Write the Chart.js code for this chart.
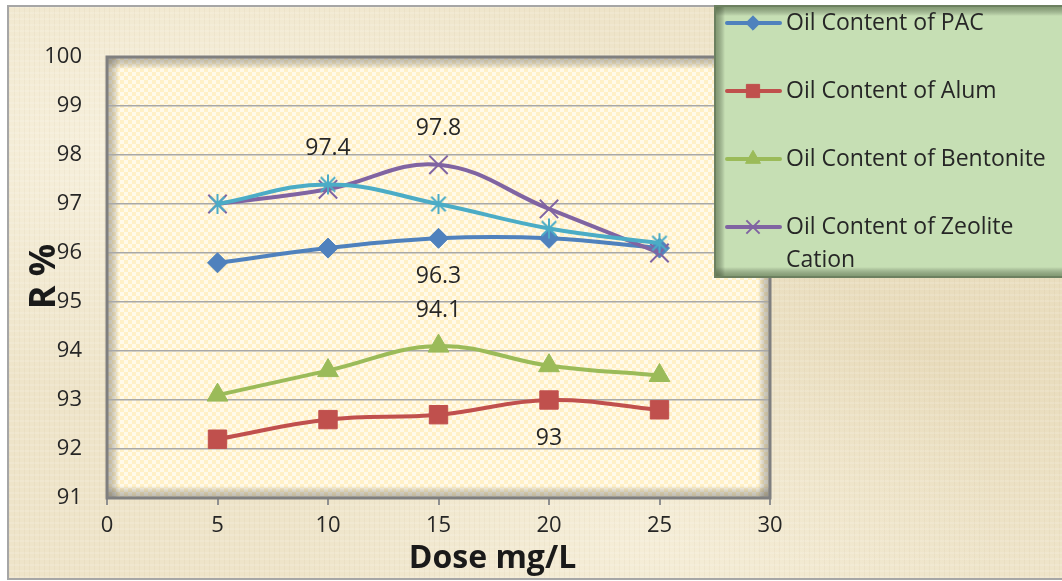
<!DOCTYPE html>
<html>
<head>
<meta charset="utf-8">
<script src="https://cdn.jsdelivr.net/npm/chart.js@4.4.1/dist/chart.umd.min.js"></script>
<style>
  html, body { margin: 0; padding: 0; background: #ffffff; }
  #frame {
    position: absolute; left: 7px; top: 5px; width: 1060px; height: 575px;
    box-sizing: border-box; border: 2px solid #a6a6a6;
    background-color: #eee4c9;
    background-image:
      repeating-linear-gradient(0deg, rgba(255,255,255,0.12) 0 2px, rgba(0,0,0,0) 2px 6px),
      repeating-linear-gradient(90deg, rgba(150,120,70,0.05) 0 1px, rgba(0,0,0,0) 1px 5px),
      radial-gradient(ellipse at 15% 25%, rgba(255,251,238,0.55), rgba(255,251,238,0) 40%),
      radial-gradient(ellipse at 60% 90%, rgba(255,250,235,0.45), rgba(255,250,235,0) 40%),
      radial-gradient(ellipse at 85% 60%, rgba(215,195,150,0.30), rgba(215,195,150,0) 45%);
  }
  #c { position: absolute; left: 0; top: 0; }
</style>
</head>
<body>
<div id="frame"></div>
<canvas id="c" width="1062" height="581"></canvas>
<script>
// Dose (mg/L) and removal efficiency R % for each coagulant / adsorbent
const doses = [5, 10, 15, 20, 25];
const pacValues = [95.8, 96.1, 96.3, 96.3, 96.1];
const alumValues = [92.2, 92.6, 92.7, 93.0, 92.8];
const bentoniteValues = [93.1, 93.6, 94.1, 93.7, 93.5];
const zeoliteValues = [97.0, 97.3, 97.8, 96.9, 96.0];
const fifthValues = [97.0, 97.4, 97.0, 96.5, 96.2];
const seriesNames = ['Oil Content of PAC', 'Oil Content of Alum', 'Oil Content of Bentonite', 'Oil Content of Zeolite Cation', ''];
const xTicks = [0, 5, 10, 15, 20, 25, 30];
const yTicks = [91, 92, 93, 94, 95, 96, 97, 98, 99, 100];
const xTitle = 'Dose mg/L';
const yTitle = 'R %';

// which points carry a value label, and on which side
const valueLabels = [
  { series: 4, point: 1, side: 'above' },
  { series: 3, point: 2, side: 'above' },
  { series: 0, point: 2, side: 'below' },
  { series: 2, point: 2, side: 'above' },
  { series: 1, point: 3, side: 'below' }
];

const FONT = "'Open Sans', 'DejaVu Sans', sans-serif";
const TEXT = '#262626';

function makeAsterisk(color, size) {
  const c = document.createElement('canvas');
  c.width = size; c.height = size;
  const g = c.getContext('2d');
  const m = size / 2, r = size / 2 - 1, d = r * 0.72;
  g.strokeStyle = color; g.lineWidth = 2; g.lineCap = 'butt';
  g.beginPath();
  g.moveTo(m, m - r); g.lineTo(m, m + r);
  g.moveTo(m - d, m - d); g.lineTo(m + d, m + d);
  g.moveTo(m + d, m - d); g.lineTo(m - d, m + d);
  g.stroke();
  return c;
}

const seriesValues = [pacValues, alumValues, bentoniteValues, zeoliteValues, fifthValues];
const styles = [
  { color: '#4f81bd', pointStyle: 'rectRot', radius: 10, pbw: 1 },
  { color: '#c0504d', pointStyle: 'rect', radius: 13, pbw: 1 },
  { color: '#9bbb59', pointStyle: 'triangle', radius: 12, pbw: 1 },
  { color: '#8064a2', pointStyle: 'crossRot', radius: 13, pbw: 2 },
  { color: '#4bacc6', pointStyle: makeAsterisk('#4bacc6', 22), radius: 11, pbw: 2 }
];

const datasets = seriesValues.map((vals, i) => ({
  label: seriesNames[i],
  data: doses.map((d, k) => ({ x: d, y: vals[k] })),
  borderColor: styles[i].color,
  backgroundColor: styles[i].color,
  borderWidth: 4,
  tension: 0.4,
  pointStyle: styles[i].pointStyle,
  pointRadius: styles[i].radius,
  pointBorderWidth: styles[i].pbw,
  pointBackgroundColor: styles[i].color,
  pointBorderColor: styles[i].color,
  order: seriesValues.length - i
}));

function checkerPattern(ctx) {
  const p = document.createElement('canvas');
  p.width = 8; p.height = 8;
  const g = p.getContext('2d');
  g.fillStyle = '#fffaea'; g.fillRect(0, 0, 8, 8);
  g.fillStyle = '#fff0c6'; g.fillRect(0, 0, 4, 4); g.fillRect(4, 4, 4, 4);
  return ctx.createPattern(p, 'repeat');
}

function shadeEdges(ctx, x, y, w, h, depth, color) {
  const sides = [
    [x, y, x, y + depth, x, y, w, depth],
    [x, y + h, x, y + h - depth, x, y + h - depth, w, depth],
    [x, y, x + depth, y, x, y, depth, h],
    [x + w, y, x + w - depth, y, x + w - depth, y, depth, h]
  ];
  sides.forEach(s => {
    const gr = ctx.createLinearGradient(s[0], s[1], s[2], s[3]);
    gr.addColorStop(0, color);
    gr.addColorStop(1, 'rgba(0,0,0,0)');
    ctx.fillStyle = gr;
    ctx.fillRect(s[4], s[5], s[6], s[7]);
  });
}

const plotPanel = {
  id: 'plotPanel',
  beforeDraw(chart) {
    const { ctx, chartArea: a } = chart;
    ctx.save();
    ctx.fillStyle = checkerPattern(ctx);
    ctx.fillRect(a.left, a.top, a.right - a.left, a.bottom - a.top);
    shadeEdges(ctx, a.left, a.top, a.right - a.left, a.bottom - a.top, 12, 'rgba(110,110,110,0.45)');
    ctx.restore();
  },
  beforeDatasetsDraw(chart) {
    const { ctx, chartArea: a } = chart;
    ctx.save();
    ctx.strokeStyle = '#7f7f7f';
    ctx.lineWidth = 3;
    ctx.strokeRect(a.left, a.top, a.right - a.left, a.bottom - a.top);
    ctx.restore();
  }
};

const annotations = {
  id: 'annotations',
  afterDatasetsDraw(chart) {
    const ctx = chart.ctx;
    ctx.save();
    ctx.font = '23px ' + FONT;
    ctx.fillStyle = TEXT;
    ctx.textAlign = 'center';
    ctx.textBaseline = 'middle';
    valueLabels.forEach(l => {
      const v = seriesValues[l.series][l.point];
      const px = chart.scales.x.getPixelForValue(doses[l.point]);
      const py = chart.scales.y.getPixelForValue(v);
      ctx.fillText(String(v), px, l.side === 'above' ? py - 36 : py + 38);
    });
    ctx.restore();
  },
  afterDraw(chart) {
    const ctx = chart.ctx;
    const a = chart.chartArea;
    ctx.save();
    ctx.fillStyle = '#1a1a1a';
    ctx.font = 'bold 32px ' + FONT;
    ctx.textAlign = 'center';
    ctx.textBaseline = 'alphabetic';
    ctx.fillText(xTitle, (a.left + a.right) / 2 + 54, 568);
    ctx.translate(55, (a.top + a.bottom) / 2 - 1);
    ctx.rotate(-Math.PI / 2);
    ctx.font = 'bold 36px ' + FONT;
    ctx.fillText(yTitle, 0, 0);
    ctx.restore();

    // legend panel
    const bx = 715, by = 6, bw = 360, bh = 271;
    ctx.save();
    ctx.fillStyle = '#c6dfb4';
    ctx.fillRect(bx, by, bw, bh);
    shadeEdges(ctx, bx, by, bw, bh, 10, 'rgba(70,95,55,0.55)');
    ctx.strokeStyle = '#6c8060';
    ctx.lineWidth = 2;
    ctx.strokeRect(bx, by, bw, bh);
    ctx.font = '23px ' + FONT;
    ctx.textAlign = 'left';
    ctx.textBaseline = 'middle';
    const textX = 786, maxW = 1056 - textX;
    chart.data.datasets.forEach((ds, i) => {
      if (!ds.label) return;
      const cy = 23 + i * 68;
      ctx.strokeStyle = ds.borderColor;
      ctx.lineWidth = 4;
      ctx.lineCap = 'round';
      ctx.beginPath(); ctx.moveTo(727, cy); ctx.lineTo(780, cy); ctx.stroke();
      ctx.fillStyle = ds.pointBackgroundColor;
      ctx.strokeStyle = ds.pointBorderColor;
      ctx.lineWidth = ds.pointBorderWidth;
      ctx.lineCap = 'butt';
      Chart.helpers.drawPoint(ctx, {
        pointStyle: ds.pointStyle, radius: ds.pointRadius * 0.72,
        rotation: 0, borderWidth: ds.pointBorderWidth
      }, 753, cy);
      // wrap the label to the panel width
      const words = ds.label.split(' ');
      const lines = [];
      let cur = '';
      words.forEach(w => {
        const t = cur ? cur + ' ' + w : w;
        if (ctx.measureText(t).width > maxW && cur) { lines.push(cur); cur = w; }
        else cur = t;
      });
      lines.push(cur);
      ctx.fillStyle = TEXT;
      lines.forEach((ln, k) => ctx.fillText(ln, textX, cy + k * 33));
    });
    ctx.restore();
  }
};

new Chart(document.getElementById('c'), {
  type: 'line',
  data: { datasets },
  options: {
    responsive: false,
    animation: false,
    layout: { padding: { left: 0, top: 57, right: 292, bottom: 0 } },
    plugins: { legend: { display: false }, tooltip: { enabled: false } },
    scales: {
      x: {
        type: 'linear',
        min: xTicks[0], max: xTicks[xTicks.length - 1],
        afterFit(s) { s.height = 83; },
        afterBuildTicks(s) { s.ticks = xTicks.map(v => ({ value: v })); },
        grid: { drawOnChartArea: false, drawTicks: true, tickLength: 7, color: '#8f8f8f', lineWidth: 2 },
        border: { display: false },
        ticks: { padding: 8, color: TEXT, font: { family: FONT, size: 22 } }
      },
      y: {
        min: yTicks[0], max: yTicks[yTicks.length - 1],
        afterFit(s) { s.width = 107; },
        afterBuildTicks(s) { s.ticks = yTicks.map(v => ({ value: v })); },
        grid: { drawTicks: false, color: '#a8a8a8', lineWidth: 1.6 },
        border: { display: false },
        ticks: { padding: 25, color: TEXT, font: { family: FONT, size: 22 } }
      }
    }
  },
  plugins: [plotPanel, annotations]
});
</script>
</body>
</html>
